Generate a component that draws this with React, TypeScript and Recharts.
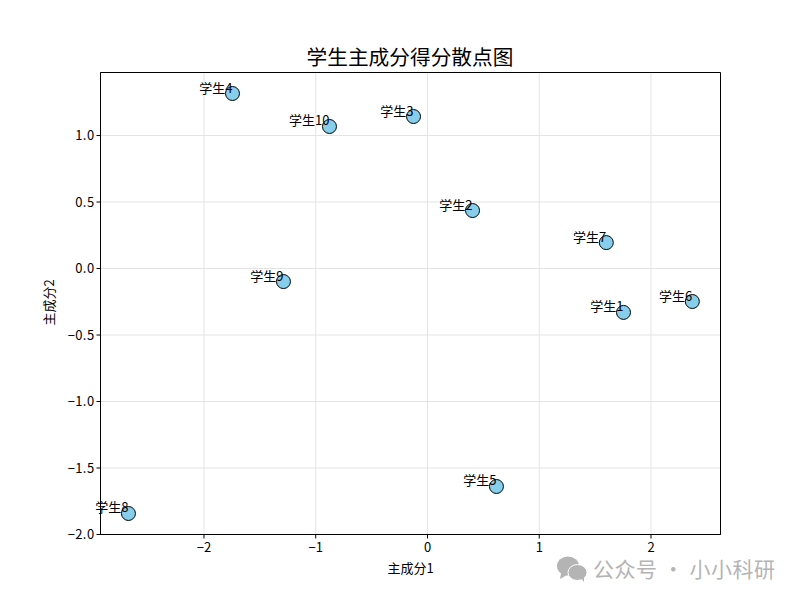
import React from "react";
import { ScatterChart, Scatter, XAxis, YAxis, CartesianGrid, ReferenceArea } from "recharts";

const names = ["学生1", "学生2", "学生3", "学生4", "学生5", "学生6", "学生7", "学生8", "学生9", "学生10"];
const pc1 = [1.754, 0.403, -0.125, -1.745, 0.617, 2.37, 1.6, -2.676, -1.289, -0.877];
const pc2 = [-0.33, 0.436, 1.143, 1.316, -1.639, -0.248, 0.195, -1.842, -0.098, 1.068];
const xTicks = [-2, -1, 0, 1, 2];
const yTicks = [-2, -1.5, -1, -0.5, 0, 0.5, 1];
const xDomain = [-2.926, 2.622];
const yDomain = [-2, 1.474];

const data = names.map((name, i) => ({ name, x: pc1[i], y: pc2[i] }));
const FONT = '"Noto Sans CJK SC", "DejaVu Sans", sans-serif';
const fmtX = (v: number) => String(v).replace("-", "−");
const fmtY = (v: number) => v.toFixed(1).replace("-", "−");

const Dot = (p: any) => (
  <g>
    <circle cx={p.cx} cy={p.cy} r={7} fill="#87CEEB" stroke="#000" strokeWidth={1} />
    <text x={p.cx} y={p.cy - 1} textAnchor="end" fontSize={13} fontFamily={FONT} fill="#000">
      {p.payload.name}
    </text>
  </g>
);

export default function App() {
  return (
    <div style={{ position: "absolute", left: 0, top: 0, width: 800, height: 600, background: "#fff", fontFamily: FONT }}>
      <ScatterChart width={800} height={600} margin={{ top: 72.5, right: 79.5, bottom: 25.5, left: 40.5 }}>
        <CartesianGrid stroke="#e4e4e4" strokeWidth={1} />
        <XAxis
          type="number"
          dataKey="x"
          domain={xDomain}
          ticks={xTicks}
          tickFormatter={fmtX}
          height={40}
          stroke="#000"
          tick={{ fill: "#000", fontSize: 13, fontFamily: FONT }}
          tickSize={4}
          tickMargin={4}
          label={{ value: "主成分1", position: "insideBottom", offset: 2, fill: "#000", fontSize: 13, fontFamily: FONT }}
        />
        <YAxis
          type="number"
          dataKey="y"
          domain={yDomain}
          ticks={yTicks}
          tickFormatter={fmtY}
          width={60}
          stroke="#000"
          tick={{ fill: "#000", fontSize: 13, fontFamily: FONT, letterSpacing: 0.4 }}
          tickSize={4}
          tickMargin={2}
          label={{ value: "主成分2", angle: -90, position: "insideLeft", offset: 9, dy: 22, fill: "#000", fontSize: 13, fontFamily: FONT }}
        />
        <ReferenceArea x1={xDomain[0]} x2={xDomain[1]} y1={yDomain[0]} y2={yDomain[1]} fill="none" stroke="#000" strokeWidth={1} fillOpacity={0} />
        <Scatter data={data} isAnimationActive={false} shape={Dot} />
      </ScatterChart>
      <div style={{ position: "absolute", left: 210, width: 400, top: 42, textAlign: "center", fontSize: 20.7, lineHeight: "28px", color: "#000" }}>
        学生主成分得分散点图
      </div>
      <svg style={{ position: "absolute", left: 556, top: 555 }} width={34} height={28}>
        <ellipse cx={12} cy={11} rx={11} ry={9.5} fill="#b4b4b4" />
        <path d="M5 18 L4 24 L11 20 Z" fill="#b4b4b4" />
        <ellipse cx={21.5} cy={17.5} rx={9.5} ry={8} fill="#b4b4b4" stroke="#fff" strokeWidth={1} />
        <path d="M25 23 L28 27 L28 22 Z" fill="#b4b4b4" />
      </svg>
      <div style={{ position: "absolute", left: 593, top: 558, fontSize: 21, lineHeight: "20px", color: "#b4b4b4", whiteSpace: "nowrap", letterSpacing: 0.5 }}>
        公众号 · 小小科研
      </div>
    </div>
  );
}
